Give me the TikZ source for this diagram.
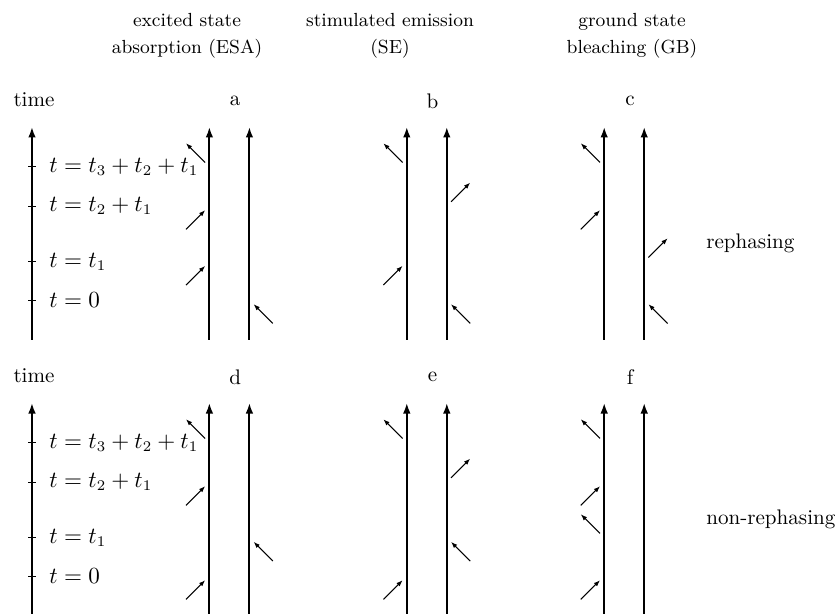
\documentclass[tikz,border=0pt]{standalone}
\usepackage{tikz}
\usetikzlibrary{arrows.meta}
\usepackage{amsmath}

\newcommand{\inleft}[1]{\draw[pulse] (#1) ++(-0.39,-0.39) -- ++(0.32,0.32);}
\newcommand{\outleft}[1]{\draw[pulse] (#1) ++(-0.07,0.07) -- ++(-0.32,0.32);}
\newcommand{\inright}[1]{\draw[pulse] (#1) ++(0.39,-0.39) -- ++(-0.32,0.32);}
\newcommand{\outright}[1]{\draw[pulse] (#1) ++(0.07,0.07) -- ++(0.32,0.32);}

\begin{document}
\begin{tikzpicture}[
every node/.style={inner sep=1pt},
wline/.style={line width=0.9pt,-{Latex[length=5pt,width=3.6pt]}},
pulse/.style={line width=0.5pt,-{Latex[length=3pt,width=2.2pt]}},
tickmark/.style={line width=0.4pt},
hdr/.style={align=center,font=\small},
tlabel/.style={anchor=west,font=\fontsize{10.5}{12}\selectfont}
]
\useasboundingbox (0,0) rectangle (14,10.233);

% pathway headers
\node[hdr] (esa) at (3.117,9.633) {excited state\\[2pt]absorption (ESA)};
\node[hdr] (se) at (6.5,9.633) {stimulated emission\\[2pt](SE)};
\node[hdr] (gb) at (10.533,9.633) {ground state\\[2pt]bleaching (GB)};

\foreach \r/\dy/\rlabel/\da/\db/\dc in {1/0/rephasing/a/b/c, 2/-4.6/non-rephasing/d/e/f} {
\begin{scope}[yshift=\dy cm]
% time axis
\coordinate (axbot\r) at (0.533,4.567);
\coordinate (axtop\r) at (0.533,8.117);
\draw[wline] (axbot\r) -- (axtop\r);
\node (time\r) at (0.567,8.567) {time};
\foreach \k/\ty/\txt in {0/5.233/{t = 0}, 1/5.872/{t = t_1},
  2/6.8/{t = t_2 + t_1}, 3/7.455/{t = t_3 + t_2 + t_1}} {
  \coordinate (t\r\k) at (0.533,\ty);
  \draw[tickmark] ([xshift=-0.06cm]t\r\k) -- ([xshift=0.06cm]t\r\k);
  \node[tlabel] (tlab\r\k) at (0.78,\ty) {$\txt$};
}
% double-sided diagrams
\foreach \c/\x in {\da/3.49, \db/6.78, \dc/10.07} {
  \coordinate (\c-l) at (\x,4.567);
  \coordinate (\c-r) at (\x+0.667,4.567);
  \draw[wline] (\c-l) -- ++(0,3.55);
  \draw[wline] (\c-r) -- ++(0,3.55);
  \node (lbl-\c) at (\x+0.43,8.55) {\c};
}
\node[anchor=west] (row\r) at (11.73,6.183) {\rlabel};
\end{scope}
}

% ESA, SE, GB rephasing
\inright{a-r|-t10} \inleft{a-l|-t11} \inleft{a-l|-t12} \outleft{a-l|-t13}
\inright{b-r|-t10} \inleft{b-l|-t11} \outright{b-r|-t12} \outleft{b-l|-t13}
\inright{c-r|-t10} \outright{c-r|-t11} \inleft{c-l|-t12} \outleft{c-l|-t13}

% ESA, SE, GB non-rephasing
\inleft{d-l|-t20} \inright{d-r|-t21} \inleft{d-l|-t22} \outleft{d-l|-t23}
\inleft{e-l|-t20} \inright{e-r|-t21} \outright{e-r|-t22} \outleft{e-l|-t23}
\inleft{f-l|-t20} \outleft{f-l|-t21} \inleft{f-l|-t22} \outleft{f-l|-t23}

\end{tikzpicture}
\end{document}
